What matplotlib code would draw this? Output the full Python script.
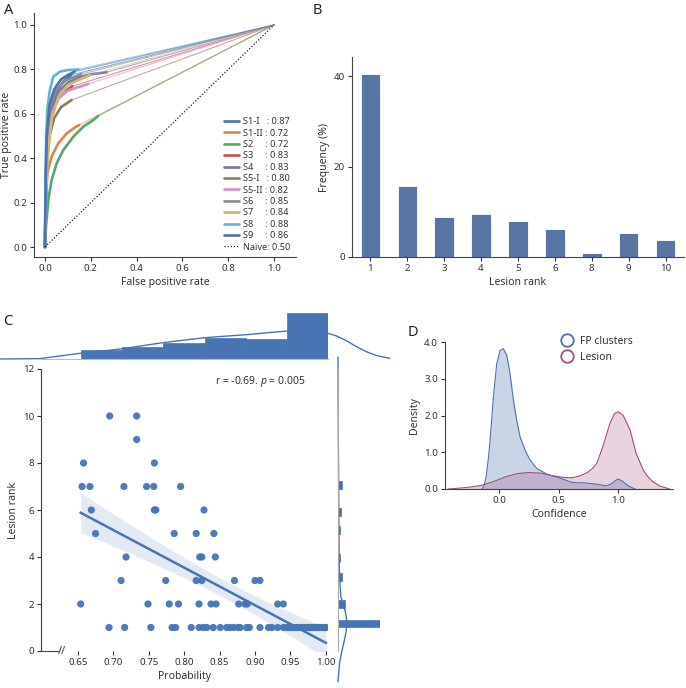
import numpy as np
import matplotlib
matplotlib.use("Agg")
import matplotlib.pyplot as plt

plt.rcParams['font.family'] = ['Noto Sans', 'DejaVu Sans']
plt.rcParams['mathtext.fontset'] = 'custom'
plt.rcParams['mathtext.it'] = 'Noto Sans:italic'
plt.rcParams['mathtext.rm'] = 'Noto Sans'

TXT = '#333333'
plt.rcParams['text.color'] = TXT
plt.rcParams['axes.labelcolor'] = TXT
plt.rcParams['xtick.color'] = TXT
plt.rcParams['ytick.color'] = TXT
plt.rcParams['axes.edgecolor'] = '#444444'
plt.rcParams['axes.linewidth'] = 0.8

# ---- panel A: ROC curves ----
subjects = ['S1-I', 'S1-II', 'S2', 'S3', 'S4', 'S5-I', 'S5-II', 'S6', 'S7', 'S8', 'S9']
auc = [0.87, 0.72, 0.72, 0.83, 0.83, 0.80, 0.82, 0.85, 0.84, 0.88, 0.86]
roc_fpr = [
    [0, 0.003, 0.01, 0.025, 0.05, 0.08, 0.115, 1],
    [0, 0.0044, 0.0102, 0.029, 0.058, 0.095, 0.131, 0.15, 1],
    [0, 0.0044, 0.0146, 0.029, 0.051, 0.080, 0.124, 0.167, 0.211, 0.232, 1],
    [0, 0.004, 0.012, 0.025, 0.05, 0.085, 0.12, 1],
    [0, 0.005, 0.015, 0.03, 0.06, 0.10, 0.15, 0.20, 0.269, 1],
    [0, 0.003, 0.01, 0.02, 0.04, 0.07, 0.116, 1],
    [0, 0.005, 0.015, 0.03, 0.06, 0.10, 0.19, 1],
    [0, 0.003, 0.01, 0.025, 0.05, 0.09, 0.157, 1],
    [0, 0.005, 0.015, 0.03, 0.06, 0.10, 0.197, 1],
    [0, 0.002, 0.005, 0.01, 0.02, 0.036, 0.065, 0.10, 0.146, 1],
    [0, 0.003, 0.008, 0.02, 0.04, 0.07, 0.10, 0.13, 1],
]
roc_tpr = [
    [0, 0.28, 0.50, 0.63, 0.70, 0.745, 0.775, 1],
    [0, 0.212, 0.332, 0.407, 0.467, 0.512, 0.539, 0.55, 1],
    [0, 0.091, 0.212, 0.302, 0.377, 0.437, 0.497, 0.542, 0.572, 0.590, 1],
    [0, 0.25, 0.45, 0.58, 0.66, 0.70, 0.725, 1],
    [0, 0.30, 0.50, 0.62, 0.70, 0.74, 0.765, 0.778, 0.787, 1],
    [0, 0.20, 0.40, 0.50, 0.58, 0.63, 0.662, 1],
    [0, 0.30, 0.50, 0.60, 0.67, 0.705, 0.735, 1],
    [0, 0.30, 0.52, 0.64, 0.71, 0.75, 0.778, 1],
    [0, 0.25, 0.45, 0.58, 0.68, 0.73, 0.775, 1],
    [0, 0.30, 0.50, 0.62, 0.70, 0.767, 0.79, 0.797, 0.80, 1],
    [0, 0.30, 0.50, 0.64, 0.71, 0.755, 0.775, 0.79, 1],
]
palette = ['#4C72B0', '#DD8452', '#55A868', '#C44E52', '#8172B3',
           '#937860', '#DA8BC3', '#8C8C8C', '#CCB974', '#64B5CD']
pad = {'S1-I': '   ', 'S1-II': ' ', 'S5-I': '   ', 'S5-II': ' '}

# ---- panel B: lesion rank frequency ----
rank_labels = ['1', '2', '3', '4', '5', '6', '8', '9', '10']
rank_freq = [40.4, 15.8, 8.8, 9.6, 7.9, 6.1, 0.9, 5.3, 3.7]

# ---- panel C: probability vs lesion rank ----
prob = [0.695, 0.733, 0.733, 0.658, 0.758,
        0.656, 0.667, 0.715, 0.747, 0.757, 0.795,
        0.669, 0.758, 0.760, 0.828,
        0.675, 0.786, 0.817, 0.842,
        0.718, 0.822, 0.825, 0.844,
        0.711, 0.774, 0.817, 0.825, 0.871, 0.900, 0.907,
        0.654, 0.749, 0.779, 0.792, 0.821, 0.838, 0.845, 0.877, 0.886, 0.889, 0.932, 0.940,
        0.694, 0.716, 0.753, 0.783, 0.788, 0.810, 0.821, 0.827, 0.832, 0.841, 0.851,
        0.860, 0.865, 0.870, 0.876, 0.879, 0.888, 0.892, 0.907, 0.919, 0.924, 0.932,
        0.940, 0.945, 0.949, 0.954, 0.959, 0.964, 0.970, 0.975, 0.980, 0.985, 0.989,
        0.994, 0.998, 1.000,
        # overlapping rank-1 points near 1.0 (implied by the marginal histogram)
        0.952, 0.957, 0.962, 0.967, 0.972, 0.977, 0.982, 0.987, 0.991, 0.996,
        0.999, 0.968, 0.978, 0.988]
rank = [10, 10, 9, 8, 8,
        7, 7, 7, 7, 7, 7,
        6, 6, 6, 6,
        5, 5, 5, 5,
        4, 4, 4, 4,
        3, 3, 3, 3, 3, 3, 3,
        2, 2, 2, 2, 2, 2, 2, 2, 2, 2, 2, 2] + [1] * 36 + [1] * 14

# top marginal (probability) histogram + kde
prob_bin_edges = [0.654, 0.712, 0.770, 0.829, 0.887, 0.945, 1.003]
prob_hist_dens = [1.25, 1.67, 2.22, 2.92, 2.78, 6.39]
prob_kde_x = [0.540, 0.596, 0.653, 0.710, 0.770, 0.829, 0.888, 0.945, 0.970,
              1.003, 1.015, 1.029, 1.043, 1.057, 1.071, 1.090]
prob_kde_y = [0.0, 0.05, 0.79, 1.39, 2.27, 2.96, 3.38, 3.89, 3.95,
              3.57, 3.2, 2.55, 1.72, 1.02, 0.5, 0.09]

# right marginal (rank) histogram + kde
rank_bar_pos = [1.17, 2.0, 3.15, 3.95, 5.15, 5.9, 7.05]
rank_bar_dens = [1.31, 0.22, 0.125, 0.06, 0.06, 0.09, 0.125]
rank_kde_y = [12.5, 9, 7, 5, 3.5, 2.9, 2.3, 1.9, 1.6, 1.2, 0.8, 0.4, 0.0, -0.5, -1.3]
rank_kde_x = [0.0, 0.01, 0.02, 0.03, 0.04, 0.06, 0.09, 0.19, 0.24, 0.28, 0.25, 0.19, 0.12, 0.05, 0.0]

# ---- panel D: confidence densities ----
fp_x = [-0.148, -0.13, -0.11, -0.09, -0.078, -0.05, -0.022, 0.006, 0.034, 0.062, 0.09,
        0.118, 0.146, 0.174, 0.216, 0.258, 0.314, 0.398, 0.45, 0.5, 0.55, 0.6, 0.65,
        0.71, 0.76, 0.82, 0.86, 0.89, 0.92, 0.95, 0.975, 1.0, 1.04, 1.07, 1.1, 1.14]
fp_y = [0.0, 0.08, 0.35, 0.9, 1.33, 2.5, 3.41, 3.77, 3.82, 3.64, 3.14,
        2.42, 1.87, 1.42, 1.06, 0.79, 0.56, 0.41, 0.35, 0.31, 0.25, 0.19, 0.17,
        0.17, 0.15, 0.13, 0.11, 0.09, 0.11, 0.16, 0.23, 0.27, 0.2, 0.12, 0.06, 0.0]
les_x = [-0.43, -0.35, -0.25, -0.15, -0.05, 0.05, 0.15, 0.25, 0.35, 0.45, 0.55, 0.62,
         0.68, 0.74, 0.78, 0.82, 0.87, 0.93, 0.97, 1.0, 1.04, 1.1, 1.15, 1.21, 1.25, 1.29,
         1.35, 1.43]
les_y = [0.0, 0.02, 0.05, 0.1, 0.2, 0.33, 0.42, 0.45, 0.43, 0.36, 0.31, 0.31,
         0.36, 0.45, 0.55, 0.70, 1.15, 1.79, 2.06, 2.1, 2.01, 1.6, 0.97, 0.52, 0.33, 0.2,
         0.08, 0.0]

W, H = 686, 688
fig = plt.figure(figsize=(W / 100, H / 100), dpi=100)


def add_ax(x0, y0, x1, y1):
    return fig.add_axes([x0 / W, 1 - y1 / H, (x1 - x0) / W, (y1 - y0) / H])


def style(ax):
    ax.spines['top'].set_visible(False)
    ax.spines['right'].set_visible(False)
    ax.tick_params(direction='out', length=3, width=0.8, labelsize=7, pad=2)


# Panel A
axA = add_ax(34, 13, 296, 257)
style(axA)
for i, name in enumerate(subjects):
    c = palette[i % 10]
    f, t = roc_fpr[i], roc_tpr[i]
    axA.plot(f[-2:], t[-2:], color=c, lw=0.8, alpha=0.6)
    axA.plot(f[:-1], t[:-1], color=c, lw=1.9, solid_capstyle='round',
             label=f"{name}{pad.get(name, '     ')}: {auc[i]:.2f}")
axA.plot([0, 1], [0, 1], ls=(0, (1, 1.5)), color='#222222', lw=0.9, label='Naïve: 0.50')
axA.set_xlim(-0.048, 1.096)
axA.set_ylim(-0.045, 1.054)
axA.set_xticks(np.arange(0, 1.01, 0.2))
axA.set_yticks(np.arange(0, 1.01, 0.2))
axA.xaxis.set_major_formatter('{x:.1f}')
axA.yaxis.set_major_formatter('{x:.1f}')
axA.set_xlabel('False positive rate', fontsize=7.5, labelpad=3)
axA.set_ylabel('True positive rate', fontsize=7.5, labelpad=1)
axA.legend(loc='lower right', bbox_to_anchor=(1.0, 0.0), fontsize=6.6, frameon=False,
           handlelength=1.6, handletextpad=0.5, labelspacing=0.26, borderaxespad=0.2)

# Panel B
axB = add_ax(352, 57, 684, 257)
style(axB)
xb = np.arange(len(rank_labels))
axB.bar(xb, rank_freq, width=0.53, color='#5975A4', edgecolor='white', linewidth=0.6)
axB.set_xticks(xb)
axB.set_xticklabels(rank_labels)
axB.set_xlim(-0.5, len(rank_labels) - 0.5)
axB.set_ylim(0, 44.2)
axB.set_yticks([0, 20, 40])
axB.set_xlabel('Lesion rank', fontsize=7.5, labelpad=3)
axB.set_ylabel('Frequency (%)', fontsize=7.5, labelpad=3)

# Panel C
BLUE = '#4874B4'
axC = add_ax(41, 369, 328, 651)
style(axC)
px = np.array(prob)
ry = np.array(rank, dtype=float)
axC.scatter(px, ry, s=27, color=BLUE, alpha=0.95, edgecolor='none', zorder=3)
slope, inter = np.polyfit(px, ry, 1)
xs = np.linspace(px.min(), px.max(), 100)
fit = slope * xs + inter
n = len(px)
resid = ry - (slope * px + inter)
s_err = np.sqrt(np.sum(resid ** 2) / (n - 2))
ci = 1.99 * s_err * np.sqrt(1 / n + (xs - px.mean()) ** 2 / np.sum((px - px.mean()) ** 2))
axC.fill_between(xs, fit - ci, fit + ci, color=BLUE, alpha=0.15, lw=0, zorder=2)
axC.plot(xs, fit, color=BLUE, lw=1.8, zorder=4)
axC.set_xlim(0.598, 1.003)
axC.set_ylim(0, 12)
axC.set_xticks(np.arange(0.65, 1.001, 0.05))
axC.xaxis.set_major_formatter('{x:.2f}')
axC.set_yticks(np.arange(0, 13, 2))
axC.spines['bottom'].set_bounds(0.598, 0.623)
axC.text(0.628, 0, '//', fontsize=8, ha='center', va='center', color='#444444',
         transform=axC.get_xaxis_transform(), clip_on=False)
axC.set_xlabel('Probability', fontsize=7.5, labelpad=3)
axC.set_ylabel('Lesion rank', fontsize=7.5, labelpad=3)
axC.text(0.606, 0.954, r'r = -0.69. $p$ = 0.005', fontsize=7.5, transform=axC.transAxes,
         ha='left', va='center')

axT = add_ax(41, 313, 328, 359)
edges = np.array(prob_bin_edges)
axT.bar(edges[:-1], prob_hist_dens, width=np.diff(edges), align='edge',
        color=BLUE, edgecolor=BLUE, linewidth=0.5)
axT.plot(prob_kde_x, prob_kde_y, color=BLUE, lw=1.0, clip_on=False)
axT.set_xlim(axC.get_xlim())
axT.set_ylim(0, max(prob_hist_dens))
for s in ['top', 'right', 'left']:
    axT.spines[s].set_visible(False)
axT.spines['bottom'].set_color('#bbbbbb')
axT.set_xticks([])
axT.set_yticks([])
axT.patch.set_visible(False)

axR = add_ax(338, 369, 380, 651)
axR.barh(rank_bar_pos, rank_bar_dens, height=0.33, color=BLUE, edgecolor=BLUE, linewidth=0.5)
axR.plot(rank_kde_x, rank_kde_y, color=BLUE, lw=1.0, clip_on=False)
axR.set_ylim(0, 12)
axR.set_xlim(0, max(rank_bar_dens))
for s in ['top', 'right', 'bottom']:
    axR.spines[s].set_visible(False)
axR.spines['left'].set_color('#aaaaaa')
axR.set_xticks([])
axR.set_yticks([])
axR.patch.set_visible(False)

# Panel D
axD = add_ax(445, 342, 673, 489)
style(axD)
c_fp, c_les = '#4C72B0', '#A2507F'
axD.fill_between(fp_x, fp_y, color=c_fp, alpha=0.3, lw=0)
axD.plot(fp_x, fp_y, color=c_fp, lw=0.8)
axD.fill_between(les_x, les_y, color=c_les, alpha=0.25, lw=0)
axD.plot(les_x, les_y, color=c_les, lw=0.8)
axD.plot([], [], 'o', mfc='none', mec=c_fp, mew=1.3, ms=9, label='FP clusters')
axD.plot([], [], 'o', mfc='none', mec=c_les, mew=1.3, ms=9, label='Lesion')
axD.set_xlim(-0.457, 1.46)
axD.set_ylim(0, 4.0)
axD.set_xticks([0, 0.5, 1.0])
axD.set_yticks([0, 1, 2, 3, 4])
axD.xaxis.set_major_formatter('{x:.1f}')
axD.yaxis.set_major_formatter('{x:.1f}')
axD.set_xlabel('Confidence', fontsize=7.5, labelpad=3)
axD.set_ylabel('Density', fontsize=7.5, labelpad=3)
axD.legend(loc='upper left', bbox_to_anchor=(0.47, 1.07), fontsize=7.5, frameon=False,
           handletextpad=0.3, labelspacing=0.45, borderaxespad=0)

# Panel letters
for lab, x, y in [('A', 4, 10), ('B', 313, 10), ('C', 3, 322), ('D', 408, 332)]:
    fig.text(x / W, 1 - y / H, lab, fontsize=10.5, ha='left', va='center', color='#222222')

fig.savefig('out.png', dpi=100)
